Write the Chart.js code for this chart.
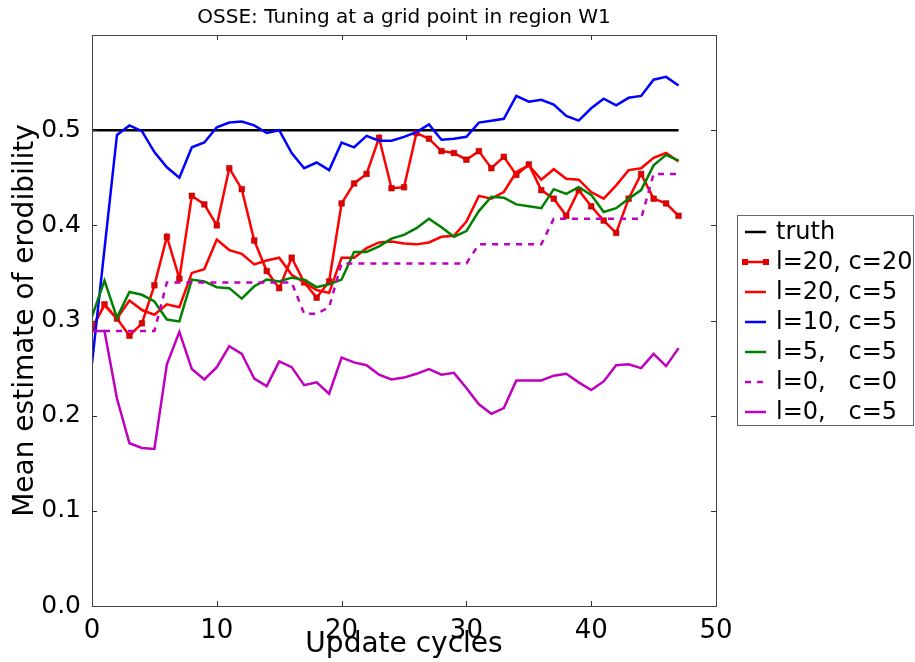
<!DOCTYPE html>
<html>
<head>
<meta charset="utf-8">
<script src="https://cdn.jsdelivr.net/npm/chart.js@4.4.1/dist/chart.umd.min.js"></script>
<style>
  html, body { margin: 0; padding: 0; background: #fff; }
  #wrap { width: 915px; height: 662px; }
</style>
</head>
<body>
<div id="wrap"><canvas id="OsseChart" width="915" height="662"></canvas></div>
<script>
// update cycles (x values)
const cycles = [0, 1, 2, 3, 4, 5, 6, 7, 8, 9, 10, 11, 12, 13, 14, 15, 16, 17, 18, 19, 20, 21, 22, 23,
  24, 25, 26, 27, 28, 29, 30, 31, 32, 33, 34, 35, 36, 37, 38, 39, 40, 41, 42, 43, 44, 45, 46, 47];

const truthX = [0, 47];
const truthY = [0.5, 0.5];

const l20c20 = [0.292, 0.317, 0.302, 0.284, 0.297, 0.337, 0.388, 0.344, 0.431, 0.422,
  0.400, 0.460, 0.438, 0.384, 0.352, 0.334, 0.366, 0.340, 0.324, 0.341,
  0.423, 0.444, 0.454, 0.492, 0.439, 0.440, 0.497, 0.491, 0.478, 0.476,
  0.469, 0.478, 0.460, 0.472, 0.453, 0.464, 0.437, 0.428, 0.410, 0.437,
  0.420, 0.405, 0.392, 0.428, 0.454, 0.428, 0.423, 0.410];

const l20c5 = [0.292, 0.316, 0.302, 0.321, 0.311, 0.306, 0.317, 0.314, 0.350, 0.354,
  0.385, 0.374, 0.370, 0.359, 0.363, 0.366, 0.348, 0.340, 0.332, 0.329,
  0.366, 0.366, 0.376, 0.382, 0.383, 0.381, 0.380, 0.382, 0.388, 0.389,
  0.404, 0.431, 0.428, 0.435, 0.456, 0.463, 0.448, 0.459, 0.449, 0.448,
  0.435, 0.428, 0.442, 0.458, 0.460, 0.471, 0.476, 0.467];

const l10c5 = [0.255, 0.375, 0.495, 0.505, 0.499, 0.477, 0.461, 0.450, 0.482, 0.487,
  0.503, 0.508, 0.509, 0.505, 0.497, 0.500, 0.476, 0.460, 0.466, 0.458,
  0.487, 0.482, 0.494, 0.489, 0.489, 0.493, 0.498, 0.506, 0.490, 0.491,
  0.493, 0.508, 0.510, 0.512, 0.536, 0.530, 0.532, 0.527, 0.515, 0.510,
  0.523, 0.533, 0.526, 0.534, 0.536, 0.553, 0.556, 0.547];

const l5c5 = [0.304, 0.342, 0.303, 0.330, 0.327, 0.320, 0.301, 0.299, 0.343, 0.341,
  0.335, 0.334, 0.323, 0.336, 0.343, 0.341, 0.345, 0.343, 0.335, 0.338,
  0.343, 0.372, 0.372, 0.378, 0.386, 0.390, 0.397, 0.407, 0.398, 0.388,
  0.394, 0.415, 0.430, 0.429, 0.422, 0.420, 0.418, 0.438, 0.433, 0.440,
  0.432, 0.414, 0.418, 0.428, 0.437, 0.463, 0.474, 0.468];

const l0c0 = [0.289, 0.289, 0.289, 0.289, 0.289, 0.289, 0.340, 0.340, 0.340, 0.340,
  0.340, 0.340, 0.340, 0.340, 0.340, 0.340, 0.340, 0.307, 0.307, 0.314,
  0.360, 0.360, 0.360, 0.360, 0.360, 0.360, 0.360, 0.360, 0.360, 0.360,
  0.360, 0.380, 0.380, 0.380, 0.380, 0.380, 0.380, 0.407, 0.407, 0.407,
  0.407, 0.407, 0.407, 0.407, 0.407, 0.454, 0.454, 0.454];

const l0c5 = [0.289, 0.289, 0.218, 0.171, 0.166, 0.165, 0.254, 0.288, 0.249, 0.238,
  0.251, 0.273, 0.265, 0.239, 0.231, 0.257, 0.251, 0.232, 0.235, 0.223,
  0.261, 0.256, 0.253, 0.243, 0.238, 0.240, 0.244, 0.249, 0.243, 0.245,
  0.229, 0.212, 0.202, 0.208, 0.237, 0.237, 0.237, 0.242, 0.244, 0.235,
  0.227, 0.236, 0.253, 0.254, 0.250, 0.265, 0.252, 0.271];

const xTicks = [0, 10, 20, 30, 40, 50];

function toPoints(xs, ys) {
  return ys.map(function (y, i) { return { x: xs[i], y: y }; });
}

const RED = '#ff0000', BLUE = '#0000ff', GREEN = '#008000', MAG = '#bf00bf';

Chart.defaults.font.family = '"DejaVu Sans", sans-serif';
Chart.defaults.color = '#000';

// inward ticks on all four sides + frame, like the old matplotlib look
const frameTicks = {
  id: 'frameTicks',
  afterDatasetsDraw(chart) {
    const { ctx, chartArea: a, scales: { x, y } } = chart;
    ctx.save();
    ctx.strokeStyle = '#333';
    ctx.lineWidth = 1;
    ctx.beginPath();
    x.ticks.forEach(function (t) {
      const px = Math.round(x.getPixelForValue(t.value)) + 0.5;
      ctx.moveTo(px, a.bottom); ctx.lineTo(px, a.bottom - 5);
      ctx.moveTo(px, a.top); ctx.lineTo(px, a.top + 5);
    });
    y.ticks.forEach(function (t) {
      const py = Math.round(y.getPixelForValue(t.value)) + 0.5;
      ctx.moveTo(a.left, py); ctx.lineTo(a.left + 5, py);
      ctx.moveTo(a.right, py); ctx.lineTo(a.right - 5, py);
    });
    ctx.stroke();
    ctx.strokeStyle = '#444';
    ctx.strokeRect(Math.round(a.left) + 0.5, Math.round(a.top) + 0.5,
      Math.round(a.right - a.left), Math.round(a.bottom - a.top));
    ctx.restore();
  }
};

// legend box outside the axes on the right
const sideLegend = {
  id: 'sideLegend',
  afterDraw(chart) {
    const ctx = chart.ctx;
    const bx = 737, by = 215, bw = 177, bh = 211;
    ctx.save();
    ctx.fillStyle = '#fff';
    ctx.fillRect(bx, by, bw, bh);
    ctx.strokeStyle = '#666';
    ctx.lineWidth = 1;
    ctx.strokeRect(bx + 0.5, by + 0.5, bw - 1, bh - 1);
    ctx.font = '24px "DejaVu Sans"';
    ctx.textBaseline = 'middle';
    chart.data.datasets.forEach(function (ds, i) {
      const yy = 232 + i * 30;
      ctx.strokeStyle = ds.borderColor;
      ctx.lineWidth = 2.5;
      ctx.setLineDash(ds.borderDash || []);
      ctx.beginPath();
      ctx.moveTo(745, yy); ctx.lineTo(766, yy);
      ctx.stroke();
      ctx.setLineDash([]);
      if (ds.pointRadius > 0) {
        ctx.fillStyle = ds.pointBackgroundColor;
        ctx.fillRect(742, yy - 3, 6, 6);
        ctx.fillRect(763, yy - 3, 6, 6);
      }
      ctx.fillStyle = '#000';
      ctx.fillText(ds.label, 776, yy + 1);
    });
    ctx.restore();
  }
};

new Chart(document.getElementById('OsseChart'), {
  type: 'line',
  data: {
    datasets: [{
      label: 'truth',
      data: toPoints(truthX, truthY),
      borderColor: '#000',
      borderWidth: 2.5,
      pointRadius: 0,
      order: 6,
    }, {
      label: 'l=20, c=20',
      data: toPoints(cycles, l20c20),
      borderColor: RED,
      borderWidth: 2.5,
      pointStyle: 'rect',
      pointRadius: 4,
      pointBackgroundColor: '#e00000',
      pointBorderColor: '#a00000',
      pointBorderWidth: 0.5,
      order: 5,
    }, {
      label: 'l=20, c=5',
      data: toPoints(cycles, l20c5),
      borderColor: RED,
      borderWidth: 2.5,
      pointRadius: 0,
      order: 4,
    }, {
      label: 'l=10, c=5',
      data: toPoints(cycles, l10c5),
      borderColor: BLUE,
      borderWidth: 2.5,
      pointRadius: 0,
      order: 3,
    }, {
      label: 'l=5,   c=5',
      data: toPoints(cycles, l5c5),
      borderColor: GREEN,
      borderWidth: 2.5,
      pointRadius: 0,
      order: 2,
    }, {
      label: 'l=0,   c=0',
      data: toPoints(cycles, l0c0),
      borderColor: MAG,
      borderWidth: 2.5,
      borderDash: [6, 6],
      pointRadius: 0,
      order: 1,
    }, {
      label: 'l=0,   c=5',
      data: toPoints(cycles, l0c5),
      borderColor: MAG,
      borderWidth: 2.5,
      pointRadius: 0,
      order: 0,
    }]
  },
  options: {
    responsive: false,
    animation: false,
    devicePixelRatio: 1,
    layout: { padding: { left: 0, right: 199, top: 0, bottom: 0 } },
    elements: { line: { tension: 0 } },
    plugins: {
      legend: { display: false },
      tooltip: { enabled: false },
      title: {
        display: true,
        text: 'OSSE: Tuning at a grid point in region W1',
        fullSize: false,
        font: { size: 20, weight: 'normal', lineHeight: 1.2 },
        color: '#000',
        padding: { top: 6, bottom: 5 },
      },
    },
    scales: {
      x: {
        type: 'linear',
        min: 0,
        max: 50,
        grid: { display: false },
        border: { display: false },
        afterFit: function (scale) { scale.height = 56; },
        afterBuildTicks: function (scale) {
          scale.ticks = xTicks.map(function (v) { return { value: v }; });
        },
        ticks: {
          font: { size: 26 },
          color: '#000',
          padding: 2,
          maxRotation: 0,
          callback: function (v) { return String(v); },
        },
        title: {
          display: true,
          text: 'Update cycles',
          font: { size: 28, lineHeight: 1.2 },
          color: '#000',
          padding: { top: 0, bottom: 0 },
        },
      },
      y: {
        min: 0,
        max: 0.6,
        grid: { display: false },
        border: { display: false },
        afterFit: function (scale) { scale.width = 92; },
        ticks: {
          stepSize: 0.1,
          font: { size: 25 },
          color: '#000',
          padding: 3,
          callback: function (v) { return v > 0.55 ? '' : v.toFixed(1); },
        },
        title: {
          display: true,
          text: 'Mean estimate of erodibility',
          font: { size: 28, lineHeight: 1.2 },
          color: '#000',
          padding: { top: 9, bottom: 0 },
        },
      },
    },
  },
  plugins: [frameTicks, sideLegend],
});
</script>
</body>
</html>
